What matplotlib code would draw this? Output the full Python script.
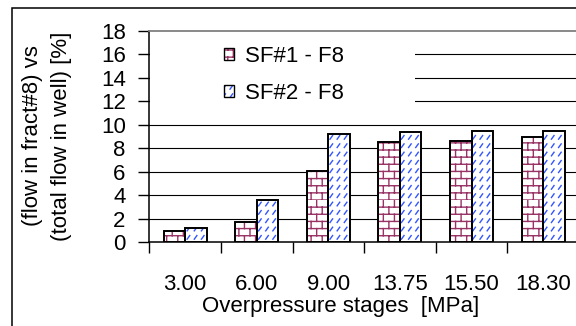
import warnings
import numpy as np
import matplotlib
matplotlib.use("Agg")
import matplotlib.pyplot as plt
from matplotlib import hatch as mhatch
from matplotlib.path import Path
from matplotlib.patches import Patch, Rectangle
from matplotlib.legend_handler import HandlerTuple

warnings.filterwarnings("ignore")

# ---------------- data ----------------
categories = ["3.00", "6.00", "9.00", "13.75", "15.50", "18.30"]
sf1_values = [1.0, 1.7, 6.1, 8.5, 8.65, 9.0]
sf2_values = [1.2, 3.6, 9.2, 9.35, 9.5, 9.5]
series_names = ["SF#1 - F8", "SF#2 - F8"]
y_ticks = [0, 2, 4, 6, 8, 10, 12, 14, 16, 18]

# ---------------- custom hatches ----------------
_orig_validate = mhatch._validate_hatch_pattern
def _validate(h):
    if h is not None and set(h) <= set("bd"):
        return
    return _orig_validate(h)
mhatch._validate_hatch_pattern = _validate


class BrickHatch(mhatch.HatchPatternBase):
    rows = 14
    cols = 9

    def __init__(self, hatch, density):
        self.on = "b" in hatch
        self.num_vertices = (self.rows * 2 + self.rows * self.cols * 2) if self.on else 0

    def set_vertices_and_codes(self, vertices, codes):
        k = 0
        for i in range(self.rows):
            y = i / self.rows
            vertices[k] = (0.0, y); codes[k] = Path.MOVETO; k += 1
            vertices[k] = (1.0, y); codes[k] = Path.LINETO; k += 1
        for i in range(self.rows):
            y0 = i / self.rows
            y1 = (i + 1) / self.rows
            off = 0.5 * (i % 2)
            for j in range(self.cols):
                x = ((j + off) / self.cols) % 1.0
                vertices[k] = (x, y0); codes[k] = Path.MOVETO; k += 1
                vertices[k] = (x, y1); codes[k] = Path.LINETO; k += 1


class DashHatch(mhatch.HatchPatternBase):
    rows = 12
    cols = 14
    dx = 0.026
    dy = 0.036

    def __init__(self, hatch, density):
        self.on = "d" in hatch
        self.num_vertices = (self.rows * self.cols * 2) if self.on else 0

    def set_vertices_and_codes(self, vertices, codes):
        k = 0
        for i in range(self.rows):
            y = (i + 0.3) / self.rows
            for j in range(self.cols):
                x = (j + 0.2) / self.cols
                vertices[k] = (x, y); codes[k] = Path.MOVETO; k += 1
                vertices[k] = (x + self.dx, y + self.dy); codes[k] = Path.LINETO; k += 1


mhatch._hatch_types.append(BrickHatch)
mhatch._hatch_types.append(DashHatch)

# ---------------- figure ----------------
plt.rcParams["font.family"] = ["Liberation Sans", "DejaVu Sans"]
plt.rcParams["hatch.linewidth"] = 1.0
FS = 16

W, H = 576, 326
fig = plt.figure(figsize=(W / 100, H / 100), dpi=100)

ax_left, ax_right = 149.3, 579.0
ax_top, ax_bottom = 30.8, 242.3
ax = fig.add_axes([ax_left / W, 1 - ax_bottom / H,
                   (ax_right - ax_left) / W, (ax_bottom - ax_top) / H])

# outer frame
fig.patches.append(Rectangle((11.5 / W, -0.2), 1.5, 1 - 8.3 / H + 0.2,
                             transform=fig.transFigure, fill=False,
                             edgecolor="black", linewidth=1.1, zorder=0))

x = np.arange(len(categories))
bw = 0.3
brick_color = "#993366"
dash_color = "#3355ff"

# hatch layers
ax.bar(x + 0.5 - bw / 2, sf1_values, bw, facecolor="white", edgecolor=brick_color,
       hatch="b", linewidth=0, zorder=3)
ax.bar(x + 0.5 + bw / 2, sf2_values, bw, facecolor="white", edgecolor=dash_color,
       hatch="d", linewidth=0, zorder=3)
# outlines
ax.bar(x + 0.5 - bw / 2, sf1_values, bw, facecolor="none", edgecolor="black",
       linewidth=1.4, zorder=4)
ax.bar(x + 0.5 + bw / 2, sf2_values, bw, facecolor="none", edgecolor="black",
       linewidth=1.4, zorder=4)

ax.set_xlim(0, len(categories))
ax.set_ylim(0, 18)

# gridlines
for yv in y_ticks[1:-1]:
    ax.axhline(yv, color="black", linewidth=0.8, zorder=1)

# white box behind legend
ax.add_patch(Rectangle((0.002, 0.616), 0.616, 0.335, transform=ax.transAxes,
                       facecolor="white", edgecolor="none", zorder=2))

# spines
ax.spines["right"].set_visible(False)
ax.spines["top"].set_color("#808080")
ax.spines["top"].set_linewidth(1.3)
ax.spines["left"].set_linewidth(1.1)
ax.spines["bottom"].set_linewidth(1.1)

ax.set_yticks(y_ticks)
ax.set_yticklabels([str(v) for v in y_ticks], fontsize=FS)
ax.tick_params(axis="y", direction="out", length=8, width=1.0, pad=9)

ax.set_xticks(x + 0.5)
ax.set_xticklabels(categories, fontsize=FS)
ax.tick_params(axis="x", which="major", length=0, pad=23)
ax.set_xticks(np.arange(len(categories) + 1), minor=True)
ax.tick_params(axis="x", which="minor", direction="out", length=8, width=1.0)

# labels
fig.text(341 / W, 1 - 311.7 / H, "Overpressure stages  [MPa]", fontsize=FS,
         ha="center", va="baseline")
fig.text(47 / W, 1 - 136 / H, "(flow in fract#8) vs\n(total flow in well) [%]",
         fontsize=FS, rotation=90, ha="center", va="center", multialignment="center",
         linespacing=1.45)

# legend
h1 = (Patch(facecolor="white", edgecolor=brick_color, hatch="b", linewidth=0),
      Patch(facecolor="none", edgecolor="black", linewidth=1.0))
h2 = (Patch(facecolor="white", edgecolor=dash_color, hatch="d", linewidth=0),
      Patch(facecolor="none", edgecolor="black", linewidth=1.0))
leg = ax.legend([h1, h2], series_names, handler_map={tuple: HandlerTuple(ndivide=1)},
                loc="upper left", bbox_to_anchor=((224 - ax_left) / (ax_right - ax_left),
                                                  1 - (46 - ax_top) / (ax_bottom - ax_top)),
                frameon=False, fontsize=FS, handlelength=0.45, handleheight=0.45,
                handletextpad=0.5, labelspacing=0.7, borderpad=0, borderaxespad=0)
leg.set_zorder(5)

fig.savefig("out.png", dpi=100)
